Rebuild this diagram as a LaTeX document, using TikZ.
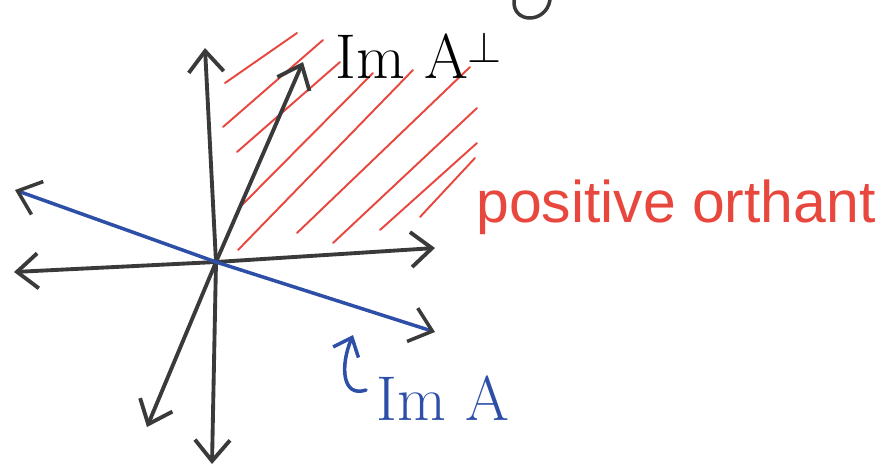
\documentclass[tikz,border=0pt]{standalone}
\usepackage{fontspec}
\newfontfamily\handfont{Liberation Sans}
\usetikzlibrary{arrows.meta}
\definecolor{axisgray}{HTML}{3A3A3A}
\definecolor{imblue}{HTML}{2E4FA8}
\definecolor{hatchred}{HTML}{E8473E}

\begin{document}
\begin{tikzpicture}[x=0.02cm,y=-0.02cm,line join=round,line cap=round,
		>={Straight Barb[length=0.42cm,width=0.7cm]}]
	\tikzset{axis/.style={draw=axisgray,line width=2.2pt,<->},
		imline/.style={draw=imblue,line width=2pt,
			{Straight Barb[length=0.42cm,width=0.7cm,color=axisgray]}-{Straight Barb[length=0.42cm,width=0.7cm,color=axisgray]}},
		hatch/.style={draw=hatchred,line width=1.1pt},
		lbl/.style={inner sep=0pt,font=\fontsize{36}{38}\selectfont}}
	\useasboundingbox (0,0) rectangle (881,474);
	% hatching of the positive orthant
	\foreach \xa/\ya/\xb/\yb in {225/83/297/33,223/127/323/40,237/152/340/62,
		240/207/373/73,238/250/413/70,297/233/470/67,333/243/477/108,
		380/230/477/143,420/217/475/158}
	\draw[hatch] (\xa,\ya)--(\xb,\yb);
	% axes
	\coordinate (O) at (216,262);
	\coordinate (ytop) at (205,48);
	\coordinate (ybot) at (212,464);
	\coordinate (xleft) at (14,272);
	\coordinate (xright) at (435,248);
	\draw[axis] (ybot)--(O)--(ytop);
	\draw[axis] (xleft)--(O)--(xright);
	% Im A and its complement
	\coordinate (perptop) at (303,62);
	\coordinate (perpbot) at (147,427);
	\draw[axis] (perpbot)--(O)--(perptop);
	\coordinate (imleft) at (15,190);
	\coordinate (imright) at (435,332);
	\draw[imline] (imleft)--(O)--(imright);
	% labels
	\node[lbl,anchor=base west] (perp) at (335,78) {Im A$^{\perp}$};
	\node[lbl,text=imblue,anchor=base west] (imA) at (376,420) {Im A};
	\node[lbl,font=\handfont\fontsize{33.5}{36}\selectfont,text=hatchred,anchor=base west] (orth) at (476,222) {positive orthant};
	\coordinate (hooktail) at (366,390);
	\coordinate (hooktip) at (353,335);
	\draw[imline,-{Straight Barb[length=0.32cm,width=0.55cm]}] (hooktail) .. controls (342,398) and (340,366) .. (hooktip);
	% cut off writing on top
	\draw[axisgray,line width=2pt] (514,0) .. controls (512,24) and (546,24) .. (550,0);
\end{tikzpicture}
\end{document}
